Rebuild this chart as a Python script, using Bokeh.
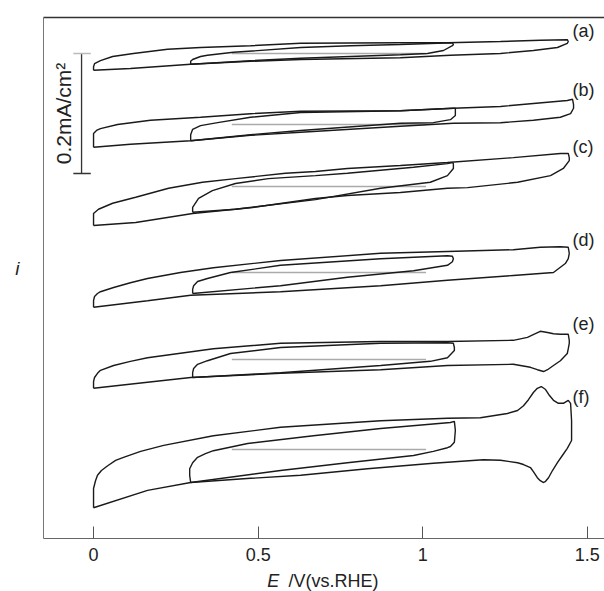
import math
from bokeh.plotting import figure
from bokeh.layouts import column
from bokeh.models import Range1d, FixedTicker, LinearAxis
from bokeh.core.properties import value
from bokeh.embed import file_html
from bokeh.resources import INLINE

# ---- data: potential E (V vs RHE) and current i (uA/cm2, relative to each curve's zero line)
A_OUT_E = [0.0, 0.0, 0.003, 0.021, 0.058, 0.121, 0.225, 0.325, 0.477, 0.629, 0.932, 1.075, 1.236, 1.357, 1.439, 1.442, 1.439, 1.409, 1.336, 1.236, 1.084, 0.932, 0.629, 0.477, 0.295, 0.112, 0.0]
A_OUT_I = [-28, -22, -17, -12, -5, 0, 7, 10, 13, 17, 18, 18, 20, 22, 23, 20, 17, 10, 5, 0, -3, -7, -10, -13, -18, -25, -28]
A_IN_E = [0.295, 0.295, 0.301, 0.325, 0.346, 0.425, 0.629, 0.78, 0.932, 1.090, 1.093, 1.090, 1.063, 1.014, 0.932, 0.629, 0.477, 0.295]
A_IN_I = [-18, -13, -10, -5, -3, 2, 10, 13, 15, 18, 15, 13, 5, 0, -2, -8, -12, -18]

B_OUT_E = [0.0, 0.0, 0.0, 0.009, 0.021, 0.073, 0.173, 0.325, 0.477, 0.629, 0.932, 1.093, 1.236, 1.336, 1.439, 1.455, 1.458, 1.458, 1.449, 1.418, 1.336, 1.236, 1.093, 0.932, 0.629, 0.477, 0.295, 0.112, 0.0]
B_OUT_I = [-38, -27, -15, -10, -7, 0, 7, 12, 18, 22, 23, 27, 30, 35, 40, 42, 33, 27, 18, 12, 7, 3, 2, -3, -13, -18, -27, -33, -38]
B_IN_E = [0.295, 0.295, 0.301, 0.325, 0.377, 0.477, 0.629, 0.932, 1.093, 1.099, 1.099, 1.084, 1.032, 0.932, 0.629, 0.477, 0.295]
B_IN_I = [-27, -17, -8, -2, 3, 12, 20, 23, 27, 27, 15, 8, 3, 2, -10, -17, -27]

C_OUT_E = [0.0, 0.0, 0.015, 0.058, 0.128, 0.228, 0.331, 0.431, 0.583, 0.674, 0.771, 0.932, 1.075, 1.275, 1.418, 1.442, 1.445, 1.445, 1.427, 1.388, 1.288, 1.136, 1.075, 0.932, 0.771, 0.674, 0.483, 0.301, 0.128, 0.0]
C_OUT_I = [-65, -45, -38, -28, -18, -3, 7, 13, 22, 25, 30, 35, 40, 48, 55, 55, 48, 43, 30, 18, 7, -2, -3, -10, -15, -20, -35, -45, -60, -65]
C_IN_E = [0.301, 0.301, 0.319, 0.361, 0.431, 0.531, 0.674, 0.771, 0.972, 1.075, 1.090, 1.093, 1.093, 1.075, 1.023, 0.872, 0.674, 0.431, 0.301]
C_IN_I = [-43, -35, -20, -7, 5, 13, 18, 22, 32, 38, 40, 38, 30, 18, 7, -3, -22, -38, -43]

D_OUT_E = [0.0, 0.0, 0.003, 0.012, 0.021, 0.061, 0.112, 0.164, 0.264, 0.364, 0.568, 0.872, 1.075, 1.275, 1.357, 1.418, 1.442, 1.445, 1.442, 1.433, 1.397, 1.275, 1.075, 0.872, 0.568, 0.295, 0.164, 0.0]
D_OUT_I = [-58, -47, -40, -35, -32, -25, -17, -10, 0, 8, 20, 32, 35, 38, 42, 43, 42, 32, 23, 15, 0, -5, -13, -22, -32, -38, -47, -58]
D_IN_E = [0.301, 0.301, 0.304, 0.316, 0.346, 0.416, 0.568, 0.872, 1.075, 1.090, 1.093, 1.090, 1.075, 0.972, 0.771, 0.568, 0.301]
D_IN_I = [-35, -28, -22, -15, -10, 0, 12, 23, 28, 27, 23, 18, 12, 3, -8, -22, -35]

E_OUT_E = [0.0, 0.0, 0.003, 0.012, 0.021, 0.061, 0.112, 0.164, 0.364, 0.568, 0.872, 1.075, 1.275, 1.318, 1.342, 1.357, 1.379, 1.397, 1.418, 1.442, 1.445, 1.445, 1.442, 1.439, 1.418, 1.397, 1.379, 1.367, 1.348, 1.327, 1.275, 1.075, 0.872, 0.568, 0.295, 0.164, 0.0]
E_OUT_I = [-48, -37, -30, -23, -18, -10, -3, 3, 18, 27, 30, 30, 32, 37, 43, 47, 45, 43, 42, 42, 32, 27, 18, 10, -2, -10, -17, -20, -17, -13, -8, -10, -17, -23, -30, -38, -48]
E_IN_E = [0.301, 0.301, 0.304, 0.316, 0.346, 0.416, 0.568, 0.872, 1.075, 1.093, 1.096, 1.096, 1.075, 1.023, 0.872, 0.568, 0.301]
E_IN_I = [-30, -22, -15, -8, -2, 10, 20, 27, 28, 27, 20, 15, 3, -3, -10, -22, -30]

F_OUT_E = [0.0, 0.0, 0.0, 0.006, 0.012, 0.024, 0.043, 0.067, 0.091, 0.143, 0.213, 0.364, 0.568, 0.872, 1.075, 1.175, 1.257, 1.288, 1.306, 1.321, 1.336, 1.348, 1.360, 1.373, 1.385, 1.397, 1.412, 1.427, 1.442, 1.449, 1.452, 1.452, 1.439, 1.424, 1.409, 1.394, 1.382, 1.373, 1.367, 1.357, 1.348, 1.336, 1.327, 1.306, 1.288, 1.236, 1.184, 1.032, 0.832, 0.629, 0.477, 0.295, 0.164, 0.0]
F_OUT_I = [-97, -77, -65, -52, -43, -35, -27, -18, -13, -3, 7, 23, 37, 48, 52, 53, 60, 65, 73, 83, 95, 102, 105, 100, 90, 82, 77, 77, 82, 77, 48, 15, 2, -10, -22, -35, -47, -53, -55, -52, -47, -37, -30, -25, -22, -18, -17, -23, -32, -43, -48, -55, -68, -97]
F_IN_E = [0.295, 0.292, 0.292, 0.301, 0.316, 0.340, 0.364, 0.468, 0.668, 0.872, 1.084, 1.096, 1.099, 1.096, 1.084, 1.075, 1.032, 0.972, 0.771, 0.568, 0.295]
F_IN_I = [-55, -43, -32, -22, -13, -7, -2, 10, 23, 35, 45, 47, 32, 12, 5, 3, -3, -10, -22, -35, -55]

CURVE_LABELS = ["(a)", "(b)", "(c)", "(d)", "(e)", "(f)"]
ZERO_E = [0.42, 1.01]            # grey zero-current reference segment
SCALE_BAR_UA = 200               # 0.2 mA/cm2
SCALE_TEXT = "0.2mA/cm\u00b2"
X_TICKS = [0, 0.5, 1, 1.5]
X_TITLE_ITALIC = "E"
X_TITLE_REST = "/V(vs.RHE)"
Y_TITLE = "i"

# ---- layout (vertical stacking offsets, in uA/cm2)
OFFSETS = [808.3, 690.0, 586.7, 443.3, 298.3, 148.3]
LABEL_Y = [845.0, 748.3, 651.7, 498.3, 358.3, 235.0]
LABEL_X = 1.455
Y_TITLE_POS = 450

outer = [(A_OUT_E, A_OUT_I), (B_OUT_E, B_OUT_I), (C_OUT_E, C_OUT_I),
         (D_OUT_E, D_OUT_I), (E_OUT_E, E_OUT_I), (F_OUT_E, F_OUT_I)]
inner = [(A_IN_E, A_IN_I), (B_IN_E, B_IN_I), (C_IN_E, C_IN_I),
         (D_IN_E, D_IN_I), (E_IN_E, E_IN_I), (F_IN_E, F_IN_I)]

FONT = "Liberation Sans"
INK = "#1a1a1a"

xr = Range1d(-0.152, 1.552)
p = figure(width=604, height=570, output_backend="svg", toolbar_location=None,
           x_range=xr, y_range=Range1d(0, 868.3),
           min_border_left=43, min_border_right=0, min_border_top=17, min_border_bottom=32)
p.outline_line_color = None
p.grid.visible = False

# bottom axis
p.xaxis.ticker = FixedTicker(ticks=X_TICKS)
p.xaxis.major_tick_in = 12
p.xaxis.major_tick_out = 0
p.xaxis.minor_tick_line_color = None
p.xaxis.axis_line_color = "#666666"
p.xaxis.major_tick_line_color = "#555555"
p.xaxis.major_label_text_font = FONT
p.xaxis.major_label_text_font_size = "18px"
p.xaxis.major_label_text_color = "#222222"
p.xaxis.major_label_standoff = 9

# left axis: plain line, the italic "i" placed as its only label
p.yaxis.ticker = FixedTicker(ticks=[Y_TITLE_POS])
p.yaxis.major_label_overrides = {Y_TITLE_POS: Y_TITLE}
p.yaxis.major_label_text_font = FONT
p.yaxis.major_label_text_font_style = "italic"
p.yaxis.major_label_text_font_size = "19px"
p.yaxis.major_label_text_color = "#222222"
p.yaxis.major_label_standoff = 18
p.yaxis.major_tick_line_color = None
p.yaxis.minor_tick_line_color = None
p.yaxis.axis_line_color = "#777777"

top_ax = LinearAxis(ticker=FixedTicker(ticks=[]), major_tick_line_color=None,
                    minor_tick_line_color=None, major_label_text_color=None,
                    axis_line_color="#333333", axis_line_width=1.3)
p.add_layout(top_ax, "above")

# curves
for k in range(6):
    off = OFFSETS[k]
    p.line(ZERO_E, [off, off], line_color="#aaaaaa", line_width=1.5)
    e, i = outer[k]
    p.line(e, [off + v for v in i], line_color=INK, line_width=1.4)
    e, i = inner[k]
    p.line(e, [off + v for v in i], line_color=INK, line_width=1.4)

p.text(x=[LABEL_X] * 6, y=LABEL_Y, text=CURVE_LABELS, text_font=value(FONT),
       text_font_size="18px", text_baseline="middle", text_align="left", text_color="#222222")

# scale bar
sb_x = -0.0364
sb_top = OFFSETS[0]
sb_bot = sb_top - SCALE_BAR_UA
p.line([sb_x, sb_x], [sb_bot, sb_top], line_color="#333333", line_width=1.3)
p.line([sb_x - 0.025, sb_x + 0.028], [sb_top, sb_top], line_color="#bbbbbb", line_width=1.5)
p.line([sb_x - 0.025, sb_x + 0.028], [sb_bot, sb_bot], line_color="#333333", line_width=1.3)
p.text(x=[-0.0911], y=[(sb_top + sb_bot) / 2], text=[SCALE_TEXT], angle=math.pi / 2,
       text_font=value(FONT), text_font_size="21px", text_align="center",
       text_baseline="middle", text_color="#222222")

# x-axis title strip (italic E + upright unit), sharing the x scale
p2 = figure(width=604, height=21, output_backend="svg", toolbar_location=None,
            x_range=xr, y_range=Range1d(0, 1),
            min_border_left=43, min_border_right=0, min_border_top=0, min_border_bottom=0)
p2.axis.visible = False
p2.grid.visible = False
p2.outline_line_color = None
p2.text(x=[0.528], y=[0.5], text=[X_TITLE_ITALIC], text_font=value(FONT),
        text_font_style="italic", text_font_size="18px", text_baseline="middle",
        text_align="left", text_color="#222222")
p2.text(x=[0.592], y=[0.5], text=[X_TITLE_REST], text_font=value(FONT),
        text_font_size="18px", text_baseline="middle", text_align="left", text_color="#222222")

layout = column(p, p2, spacing=0)
open("out.html", "w").write(file_html(layout, INLINE))
